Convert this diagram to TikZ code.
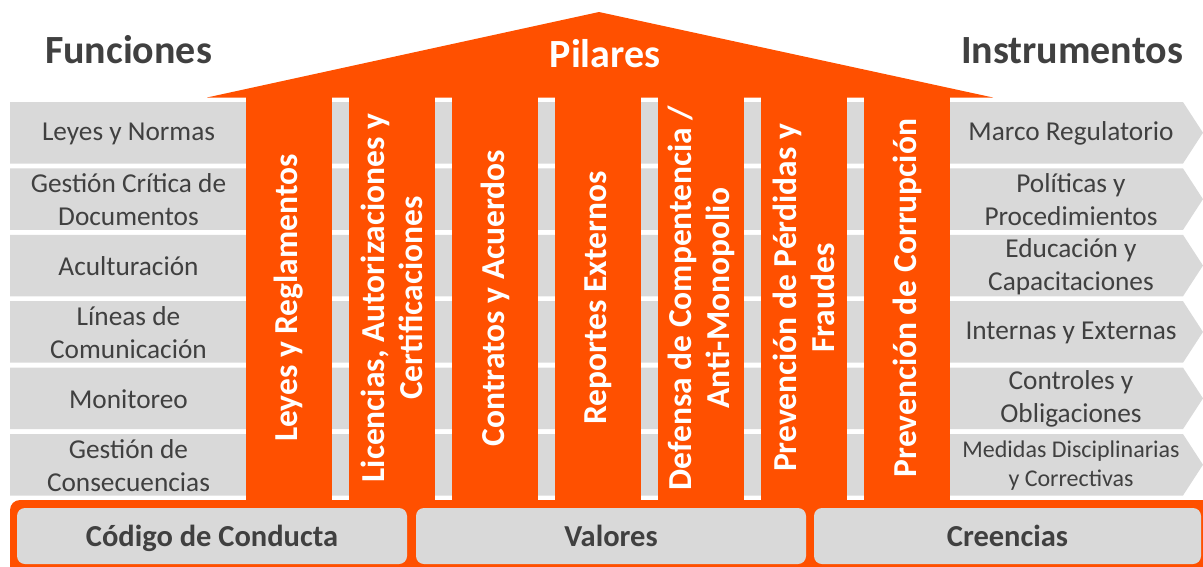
\documentclass[tikz,border=0pt]{standalone}
\usepackage{fontspec}
\setmainfont{Carlito}
\usepackage{xcolor}
\definecolor{pilar}{RGB}{255,80,0}
\definecolor{fondo}{RGB}{217,217,217}
\definecolor{texto}{RGB}{64,64,64}

\begin{document}
\begin{tikzpicture}[x=1pt,y=-1pt,
    fila/.style={fill=fondo},
    titulo/.style={text=texto,anchor=base,font=\fontsize{40}{46}\selectfont\bfseries},
    celda/.style={text=texto,align=center,font=\fontsize{27.3}{33}\selectfont},
    columna/.style={text=white,align=center,rotate=90,font=\fontsize{33.5}{38}\selectfont\bfseries},
    cimiento/.style={fill=fondo,rounded corners=8,minimum width=390,minimum height=56,text height=21,text depth=0,text=texto,font=\fontsize{30.5}{36}\selectfont\bfseries}]
\clip (0,0) rectangle (1203,566);
% filas de fondo (funciones / instrumentos)
\foreach \i in {0,...,5}
  \fill[fila] (10,{102+66.4*\i}) -- (1183,{102+66.4*\i}) -- (1203,{132.75+66.4*\i}) -- (1183,{163.5+66.4*\i}) -- (10,{163.5+66.4*\i}) -- cycle;
% techo y pilares
\fill[pilar] (207,97.5) -- (599,12) -- (993,97.5) -- cycle;
\foreach \i in {0,...,6}
  \fill[pilar] ({246+103*\i},96) rectangle +(86,406);
\fill[pilar,rounded corners=10] (10,500) rectangle (1220,590);
% titulos
\node[titulo] (funciones) at (128.5,63) {Funciones};
\node[titulo] (instrumentos) at (1072,63) {Instrumentos};
\node[titulo,text=white] (pilares) at (605,67) {Pilares};
% textos de los pilares
\foreach \i/\txt in {0/{Leyes y Reglamentos},1/{Licencias, Autorizaciones y\\Certificaciones},2/{Contratos y Acuerdos},3/{Reportes Externos},4/{Defensa de Compentencia /\\Anti-Monopolio},5/{Prevención de Pérdidas y\\Fraudes},6/{Prevención de Corrupción}}
  \node[columna] (pil\i) at ({289+103*\i},298) {\txt};
% funciones
\foreach \i/\txt in {0/{Leyes y Normas},1/{Gestión Crítica de\\Documentos},2/{Aculturación},3/{Líneas de\\Comunicación},4/{Monitoreo},5/{Gestión de\\Consecuencias}}
  \node[celda] (fun\i) at (128.5,{133.5+66.4*\i}) {\txt};
% instrumentos
\foreach \i/\txt in {0/{Marco Regulatorio},1/{Políticas y\\Procedimientos},2/{Educación y\\Capacitaciones},3/{Internas y Externas},4/{Controles y\\Obligaciones}}
  \node[celda] (ins\i) at (1071,{133.5+66.4*\i}) {\txt};
\node[celda,font=\fontsize{24}{29}\selectfont] (ins5) at (1071,{133.5+66.4*5}) {Medidas Disciplinarias\\y Correctivas};
% cimientos
\node[cimiento] (codigo) at (212,536) {Código de Conducta};
\node[cimiento] (valores) at (611,536) {Valores};
\node[cimiento,minimum width=387] (creencias) at (1007.5,536) {Creencias};
\end{tikzpicture}
\end{document}
